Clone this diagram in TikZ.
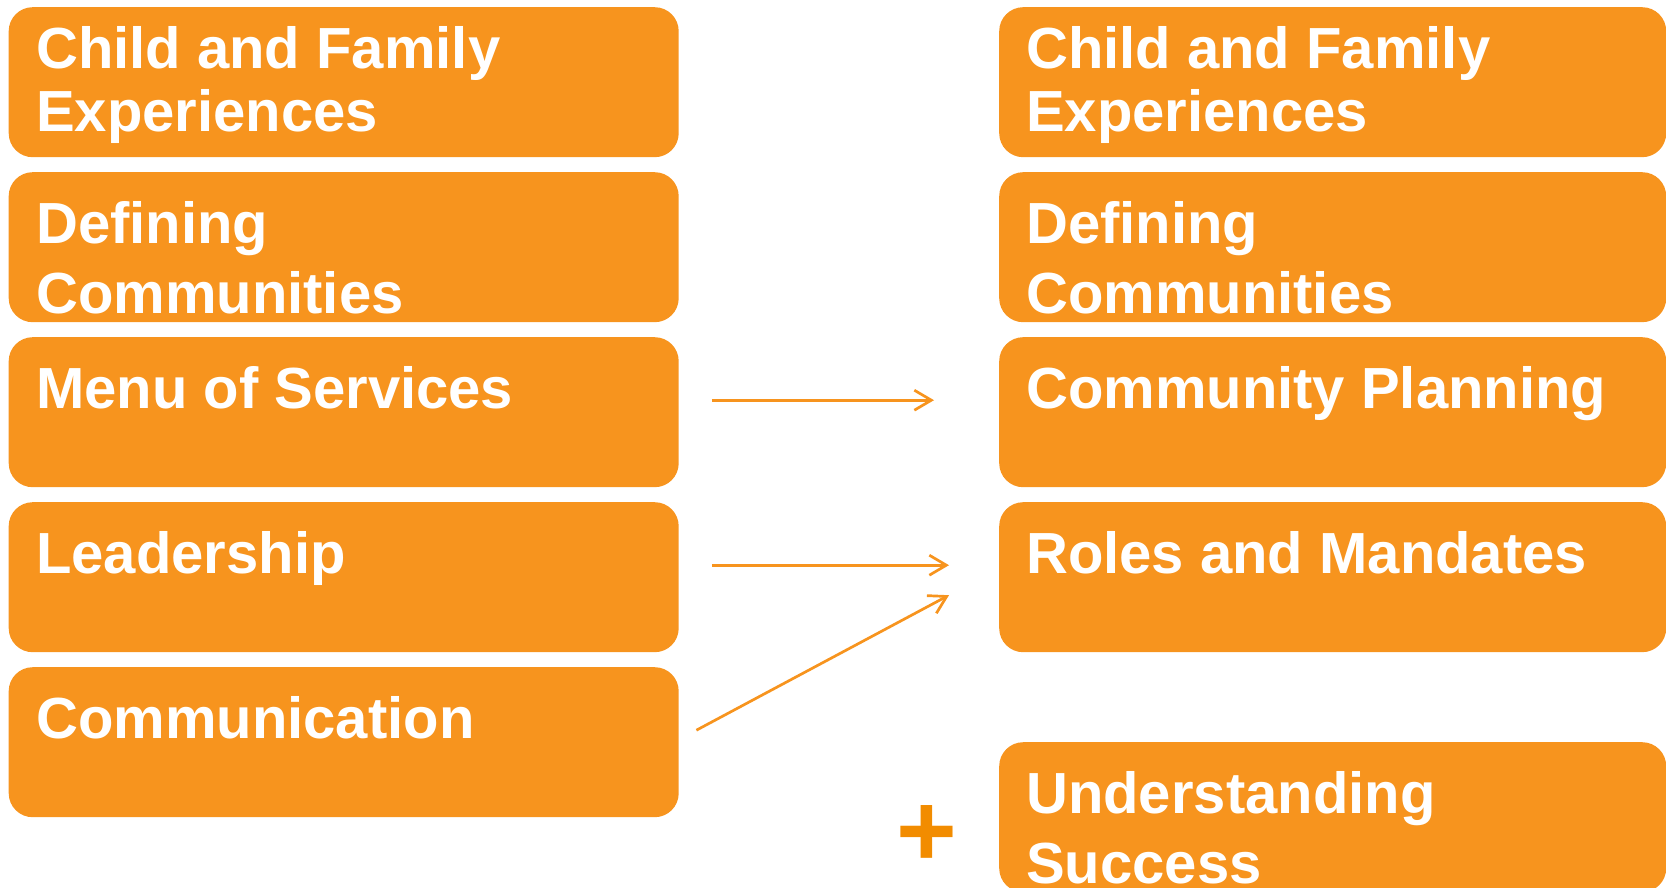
\documentclass[tikz,border=0pt]{standalone}
\usepackage{fontspec}
\setmainfont{Liberation Sans}
\usetikzlibrary{arrows.meta}
\definecolor{boxorange}{RGB}{247,148,30}
\definecolor{plusorange}{RGB}{242,140,0}

\begin{document}
\begin{tikzpicture}[x=1pt,y=1pt]
\tikzstyle{every node}+=[inner sep=0pt]
\tikzstyle{topic}=[fill=boxorange, rounded corners=24pt, minimum width=670pt, minimum height=150pt, anchor=north west]
\tikzstyle{topictext}=[text=white, font=\fontsize{58}{70}\selectfont\bfseries, align=left, anchor=base west]
\tikzstyle{link}=[draw=boxorange, line width=2.7pt, -{Straight Barb[length=17pt,width=20pt]}]
\useasboundingbox (0,0) rectangle (1666,-888);
% left column
\node [topic] (childL) at (8.5,-7) {};
\node [topictext] at ([shift={(27.5,-125)}]childL.north west) {Child and Family\\[-7pt]Experiences};
\node [topic] (defineL) at (8.5,-172) {};
\node [topictext] at ([shift={(27.5,-141)}]defineL.north west) {Defining\\Communities};
\node [topic] (menu) at (8.5,-337) {};
\node [topictext] at ([shift={(27.5,-71)}]menu.north west) {Menu of Services};
\node [topic] (lead) at (8.5,-502) {};
\node [topictext] at ([shift={(27.5,-71)}]lead.north west) {Leadership};
\node [topic] (comm) at (8.5,-667) {};
\node [topictext] at ([shift={(27.5,-71)}]comm.north west) {Communication};
% right column
\node [topic, minimum width=667pt] (childR) at (999,-7) {};
\node [topictext] at ([shift={(27,-125)}]childR.north west) {Child and Family\\[-7pt]Experiences};
\node [topic, minimum width=667pt] (defineR) at (999,-172) {};
\node [topictext] at ([shift={(27,-141)}]defineR.north west) {Defining\\Communities};
\node [topic, minimum width=667pt] (plan) at (999,-337) {};
\node [topictext] at ([shift={(27,-71)}]plan.north west) {Community Planning};
\node [topic, minimum width=667pt] (roles) at (999,-502) {};
\node [topictext] at ([shift={(27,-71)}]roles.north west) {Roles and Mandates};
\node [topic, minimum width=667pt] (success) at (999,-742) {};
\node [topictext] at ([shift={(27,-141)}]success.north west) {Understanding\\Success};
\node [text=plusorange, font=\fontsize{104}{104}\selectfont\bfseries, anchor=base] (plus) at (926.5,-866) {+};
% arrows
\coordinate (menuout) at ([shift={(33,12)}]menu.east);
\coordinate (planin) at ([shift={(-65,12)}]plan.west);
\coordinate (leadout) at ([shift={(33,12)}]lead.east);
\coordinate (rolesin) at ([shift={(-50,12)}]roles.west);
\coordinate (commout) at ([shift={(17.5,12)}]comm.east);
\coordinate (rolesin2) at ([shift={(-50,-18)}]roles.west);
\draw [link] (menuout) -- (planin);
\draw [link] (leadout) -- (rolesin);
\draw [link] (commout) -- (rolesin2);
\end{tikzpicture}
\end{document}
